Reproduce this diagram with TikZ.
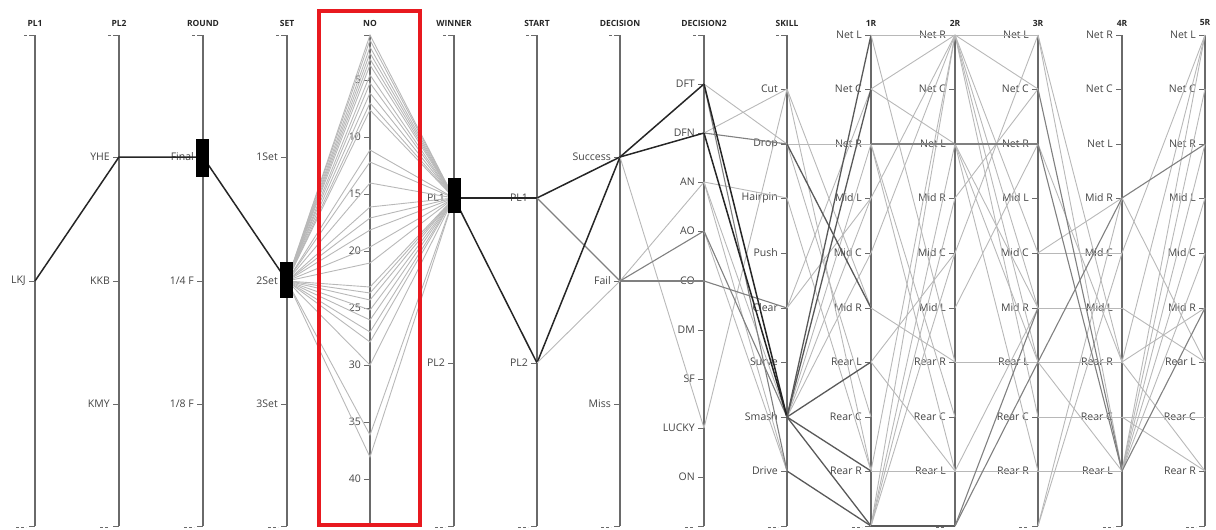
\documentclass[tikz,border=0pt]{standalone}
\usepackage{fontspec}
\setmainfont{Open Sans}
\definecolor{labc}{HTML}{444444}
\definecolor{axc}{HTML}{6A6A6A}
\definecolor{redbox}{HTML}{E8191F}
\tikzset{
  axisline/.style={draw=axc,line width=1.4pt},
  tickline/.style={draw=axc,line width=1pt},
  endtick/.style={draw=axc,line width=1pt,dash pattern=on 3pt off 2pt},
  ticklab/.style={anchor=east,font=\fontsize{10.5}{12}\selectfont,text=labc,inner sep=0pt},
  axtitle/.style={font=\bfseries\fontsize{8.5}{10}\selectfont,text=black!85,inner sep=0pt},
  bg/.style={draw=black!28,line width=0.9pt},
  mid/.style={draw=black!50,line width=1.1pt},
  dk/.style={draw=black!65,line width=1.3pt},
  hl/.style={draw=black!85,line width=1.5pt},
  selbox/.style={fill=black,draw=none},
}
\newcommand\catAxis[4]{%
  \draw[axisline] (#2,35) -- (#2,526);
  \draw[tickline] (#2-6,35) -- (#2,35);
  \draw[tickline] (#2-6,526) -- (#2,526);
  \draw[endtick] (#2-19,527) -- (#2-9,527);
  \node[axtitle] (#1-title) at (#2,23) {#3};
  \coordinate (#1-nil) at (#2,526);
  \foreach \id/\lab/\yy in {#4} {
    \coordinate (#1-\id) at (#2,\yy);
    \draw[tickline] (#2-6,\yy) -- (#2,\yy);
    \node[ticklab] (#1-\id-lab) at (#2-9,\yy) {\lab};
  }%
}
\newcommand\topdash[1]{\draw[tickline] (#1-11,35) -- (#1-8,35);}
\begin{document}
\begin{tikzpicture}[x=1pt,y=-1pt]
\useasboundingbox (0,0) rectangle (1216,530);
% ---------------- axes
\catAxis{pa}{35}{PL1}{LKJ/LKJ/281}
\catAxis{pb}{119}{PL2}{YHE/YHE/157,KKB/KKB/281,KMY/KMY/404}
\catAxis{rd}{203}{ROUND}{Final/Final/157,QF/1\slash4 F/281,EF/1\slash8 F/404}
\catAxis{st}{287}{SET}{1Set/1Set/157,2Set/2Set/281,3Set/3Set/404}
\catAxis{wn}{454}{WINNER}{PL1/PL1/198,PL2/PL2/363}
\catAxis{sr}{537}{START}{PL1/PL1/198,PL2/PL2/363}
\catAxis{dc}{620}{DECISION}{Success/Success/157,Fail/Fail/281,Miss/Miss/404}
\catAxis{dd}{704}{DECISION2}{DFT/DFT/84,DFN/DFN/133,AN/AN/182,AO/AO/231,CO/CO/281,DM/DM/330,SF/SF/379,LUCKY/LUCKY/428,ON/ON/477}
\catAxis{sk}{787}{SKILL}{Cut/Cut/89,Drop/Drop/144,Hairpin/Hairpin/198,Push/Push/253,Clear/Clear/308,Surve/Surve/362,Smash/Smash/417,Drive/Drive/471}
\catAxis{ra}{871}{1R}{NetL/Net L/35,NetC/Net C/89,NetR/Net R/144,MidL/Mid L/198,MidC/Mid C/253,MidR/Mid R/308,RearL/Rear L/362,RearC/Rear C/417,RearR/Rear R/471}
\catAxis{rb}{955}{2R}{NetR/Net R/35,NetC/Net C/89,NetL/Net L/144,MidR/Mid R/198,MidC/Mid C/253,MidL/Mid L/308,RearR/Rear R/362,RearC/Rear C/417,RearL/Rear L/471}
\catAxis{rc}{1038}{3R}{NetL/Net L/35,NetC/Net C/89,NetR/Net R/144,MidL/Mid L/198,MidC/Mid C/253,MidR/Mid R/308,RearL/Rear L/362,RearC/Rear C/417,RearR/Rear R/471}
\catAxis{re}{1122}{4R}{NetR/Net R/35,NetC/Net C/89,NetL/Net L/144,MidR/Mid R/198,MidC/Mid C/253,MidL/Mid L/308,RearR/Rear R/362,RearC/Rear C/417,RearL/Rear L/471}
\catAxis{rf}{1205}{5R}{NetL/Net L/35,NetC/Net C/89,NetR/Net R/144,MidL/Mid L/198,MidC/Mid C/253,MidR/Mid R/308,RearL/Rear L/362,RearC/Rear C/417,RearR/Rear R/471}
\foreach \xx in {35,119,203,287,454,537,620,704,787} {\topdash{\xx}}
% NO axis
\draw[axisline] (370,35) -- (370,526);
\draw[tickline] (364,35) -- (370,35);
\node[axtitle] (no-title) at (370,23) {NO};
\foreach \n in {5,10,...,40} {
  \pgfmathsetmacro\yy{23+11.4*\n}
  \draw[tickline] (364,\yy) -- (370,\yy);
  \node[ticklab] (no-lab-\n) at (361,\yy) {\n};
}
% ---------------- lines
\foreach \yy in {35,40,47,53,59,65,75,83,93,103,110,150,162,183,207,218,230,247,263,287,293,300,310,320,332,342,365,435,457} {
  \coordinate (no-\yy) at (370,\yy);
  \draw[bg] (st-2Set) -- (no-\yy) -- (wn-PL1);
}
\draw[hl] (pa-LKJ) -- (pb-YHE) -- (rd-Final) -- (st-2Set);
\draw[hl] (wn-PL1) -- (sr-PL1);
\draw[hl] (wn-PL1) -- (sr-PL2);
\draw[hl] (sr-PL1) -- (dc-Success);
\draw[mid] (sr-PL1) -- (dc-Fail);
\draw[hl] (sr-PL2) -- (dc-Success);
\draw[bg] (sr-PL2) -- (dc-Fail);
% DECISION - DECISION2
\draw[bg] (dc-Success) -- (dd-LUCKY);
\draw[bg] (dc-Fail) -- (dd-AN);
\draw[mid] (dc-Fail) -- (dd-AO);
\draw[mid] (dc-Fail) -- (dd-CO);
\draw[hl] (dc-Success) -- (dd-DFT);
\draw[hl] (dc-Success) -- (dd-DFN);
% DECISION2 - SKILL
\draw[bg] (dd-DFT) -- (sk-Drop);
\draw[bg] (dd-DFN) -- (sk-Cut);
\draw[bg] (dd-AN) -- (sk-Hairpin);
\draw[bg] (dd-AN) -- (sk-Smash);
\draw[bg] (dd-AN) -- (sk-Drive);
\draw[bg] (dd-AO) -- (sk-Drive);
\draw[bg] (dd-LUCKY) -- (sk-Cut);
\draw[mid] (dd-AO) -- (sk-Smash);
\draw[mid] (dd-CO) -- (sk-Clear);
\draw[mid] (dd-DFN) -- (sk-Drop);
\draw[mid] (dd-DFT) -- (sk-Drive);
\draw[hl] (dd-DFT) -- (sk-Smash);
\draw[hl] (dd-DFN) -- (sk-Smash);
% SKILL - 1R
\draw[bg] (sk-Drop) -- (ra-NetR);
\draw[bg] (sk-Drop) -- (ra-RearC);
\draw[bg] (sk-Cut) -- (ra-MidR);
\draw[bg] (sk-Cut) -- (ra-RearR);
\draw[bg] (sk-Hairpin) -- (ra-RearR);
\draw[bg] (sk-Clear) -- (ra-MidL);
\draw[bg] (sk-Clear) -- (ra-NetC);
\draw[bg] (sk-Smash) -- (ra-MidL);
\draw[bg] (sk-Smash) -- (ra-MidC);
\draw[bg] (sk-Smash) -- (ra-NetR);
\draw[dk] (sk-Drop) -- (ra-MidR);
\draw[dk] (sk-Smash) -- (ra-NetC);
\draw[dk] (sk-Smash) -- (ra-RearL);
\draw[dk] (sk-Smash) -- (ra-RearR);
\draw[dk] (sk-Smash) -- (ra-nil);
\draw[dk] (sk-Drive) -- (ra-nil);
\draw[dk] (sk-Smash) -- (ra-NetL);
% 1R - 2R
\draw[bg] (ra-NetL) -- (rb-NetR);
\draw[bg] (ra-NetC) -- (rb-NetR);
\draw[bg] (ra-NetC) -- (rb-NetL);
\draw[bg] (ra-NetR) -- (rb-RearC);
\draw[bg] (ra-NetR) -- (rb-RearL);
\draw[bg] (ra-NetL) -- (rb-RearR);
\draw[bg] (ra-MidL) -- (rb-NetR);
\draw[bg] (ra-MidC) -- (rb-NetR);
\draw[bg] (ra-MidR) -- (rb-RearR);
\draw[bg] (ra-RearL) -- (rb-MidC);
\draw[bg] (ra-RearL) -- (rb-RearL);
\draw[bg] (ra-RearR) -- (rb-RearL);
\draw[bg] (ra-nil) -- (rb-NetR);
\draw[bg] (ra-nil) -- (rb-NetL);
\draw[bg] (ra-nil) -- (rb-MidR);
\draw[bg] (ra-nil) -- (rb-MidC);
\draw[bg] (ra-RearR) -- (rb-NetR);
\draw[mid] (ra-NetR) -- (rb-NetL);
\draw[dk] (ra-nil) -- (rb-nil);
% 2R - 3R
\draw[bg] (rb-NetR) -- (rc-NetL);
\draw[bg] (rb-NetR) -- (rc-NetC);
\draw[bg] (rb-NetR) -- (rc-MidC);
\draw[bg] (rb-NetR) -- (rc-MidR);
\draw[bg] (rb-NetR) -- (rc-RearL);
\draw[bg] (rb-NetR) -- (rc-RearC);
\draw[bg] (rb-NetL) -- (rc-MidR);
\draw[bg] (rb-NetL) -- (rc-RearL);
\draw[bg] (rb-NetL) -- (rc-RearR);
\draw[bg] (rb-MidR) -- (rc-NetC);
\draw[bg] (rb-MidC) -- (rc-NetL);
\draw[bg] (rb-MidL) -- (rc-NetR);
\draw[bg] (rb-RearR) -- (rc-RearL);
\draw[bg] (rb-RearL) -- (rc-RearR);
\draw[bg] (rb-RearL) -- (rc-MidR);
\draw[mid] (rb-NetL) -- (rc-NetR);
\draw[mid] (rb-nil) -- (rc-MidR);
\draw[mid] (rb-nil) -- (rc-RearL);
% 3R - 4R
\draw[bg] (rc-NetL) -- (re-RearL);
\draw[bg] (rc-NetL) -- (re-RearR);
\draw[bg] (rc-NetR) -- (re-RearR);
\draw[bg] (rc-MidC) -- (re-MidC);
\draw[bg] (rc-MidC) -- (re-MidR);
\draw[bg] (rc-MidR) -- (re-MidL);
\draw[bg] (rc-RearL) -- (re-RearR);
\draw[bg] (rc-RearL) -- (re-RearL);
\draw[bg] (rc-RearC) -- (re-RearC);
\draw[bg] (rc-RearR) -- (re-RearL);
\draw[bg] (rc-nil) -- (re-MidR);
\draw[bg] (rc-nil) -- (re-MidC);
\draw[mid] (rc-NetC) -- (re-RearL);
\draw[mid] (rc-NetR) -- (re-RearL);
\draw[mid] (rc-RearL) -- (re-MidR);
% 4R - 5R
\draw[bg] (re-MidR) -- (rf-RearL);
\draw[bg] (re-MidL) -- (rf-RearL);
\draw[bg] (re-RearR) -- (rf-MidR);
\draw[bg] (re-RearR) -- (rf-NetL);
\draw[bg] (re-RearR) -- (rf-RearR);
\draw[bg] (re-RearC) -- (rf-RearC);
\draw[bg] (re-RearC) -- (rf-RearR);
\draw[bg] (re-MidC) -- (rf-NetL);
\draw[bg] (re-RearL) -- (rf-NetL);
\draw[bg] (re-RearL) -- (rf-NetC);
\draw[bg] (re-RearL) -- (rf-NetR);
\draw[bg] (re-RearL) -- (rf-MidL);
\draw[bg] (re-RearL) -- (rf-MidC);
\draw[mid] (re-RearL) -- (rf-MidR);
\draw[mid] (re-MidR) -- (rf-NetR);
% ---------------- selection boxes
\fill[selbox] (196,139) rectangle (209,177);
\fill[selbox] (280,262) rectangle (293,298);
\fill[selbox] (448,178) rectangle (461,213);
% ---------------- red frame
\draw[redbox,line width=3.5pt] (319,11) rectangle (420,525);
\end{tikzpicture}
\end{document}
